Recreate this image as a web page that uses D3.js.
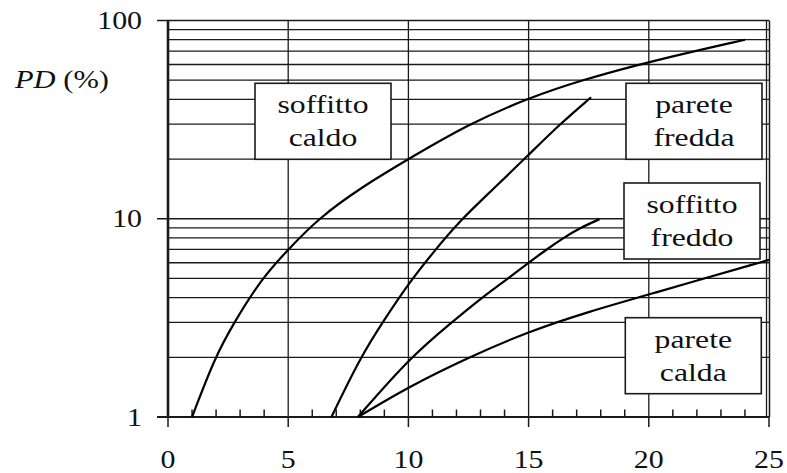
<!DOCTYPE html>
<html>
<head>
<meta charset="utf-8">
<script src="https://cdn.jsdelivr.net/npm/d3@7/dist/d3.min.js"></script>
<style>
	body{ margin:0; background:#fff; }
</style>
</head>
<body>
<svg id="chart" width="787" height="473"></svg>
<script>
// curves (x, PD %)
var soffittoCaldoX = [1, 1.95, 2.75, 3.9, 5.0, 6.24, 8, 10, 12.5, 15, 17.2, 20, 24]
	, soffittoCaldoY = [1, 2, 3, 5, 7, 10, 14.3, 20, 30, 40.7, 50, 62, 80]
	, pareteFreddaX = [6.8, 8, 9, 10, 11, 12.15, 13.5, 15, 16.3, 17.6]
	, pareteFreddaY = [1, 2, 3.1, 4.7, 6.7, 9.8, 14, 21, 30, 41]
	, soffittoFreddoX = [7.9, 10.07, 11.8, 13.05, 14.15, 15.0, 15.75, 16.45, 17.15, 17.95]
	, soffittoFreddoY = [1, 2, 3, 4, 5, 6, 7, 8, 9, 9.95]
	, pareteCaldaX = [7.9, 10, 12.5, 15, 17.5, 20, 25]
	, pareteCaldaY = [1, 1.42, 2, 2.7, 3.4, 4.15, 6.2]

	, xTicks = [0, 5, 10, 15, 20, 25]
	, yTicks = [1, 10, 100]
	, labelNames = [['soffitto', 'caldo'], ['parete', 'fredda'], ['soffitto', 'freddo'], ['parete', 'calda']]
	;

var svg = d3.select('#chart')
	, x = d3.scaleLinear().domain([0, 25]).range([168, 769])
	, y = d3.scaleLog().domain([1, 100]).range([417, 20.5])
	, sx = 1.22   // the original is stretched sideways
	, ink = '#1a1a1a'
	, serif = "'Liberation Serif', 'Times New Roman', Times, 'DejaVu Serif', 'Noto Serif', serif"
	;

function stretched(g, tx, ty, txt, anchor, size){
	return g.append('text')
		.attr('transform', 'translate(' + tx + ',' + ty + ') scale(' + sx + ',1)')
		.attr('text-anchor', anchor)
		.attr('font-family', serif)
		.attr('font-size', size)
		.attr('fill', '#111')
		.text(txt);
}

// grid
var grid = svg.append('g').attr('stroke', ink).attr('stroke-width', 1.3);
grid.selectAll('line.h').data(y.ticks()).enter().append('line')
	.attr('x1', x(0)).attr('x2', x(25))
	.attr('y1', function(d){ return y(d); }).attr('y2', function(d){ return y(d); });
grid.selectAll('line.v').data([5, 10, 15, 20]).enter().append('line')
	.attr('y1', y(1)).attr('y2', y(100))
	.attr('x1', function(d){ return x(d); }).attr('x2', function(d){ return x(d); });

// frame
svg.append('line').attr('x1', x(0)).attr('x2', x(0)).attr('y1', y(1)).attr('y2', y(100))
	.attr('stroke', ink).attr('stroke-width', 2.6);
svg.append('line').attr('x1', x(25) - 2.5).attr('x2', x(25) - 2.5).attr('y1', y(1)).attr('y2', y(100))
	.attr('stroke', ink).attr('stroke-width', 1.3);
svg.append('line').attr('x1', x(25) + 0.5).attr('x2', x(25) + 0.5).attr('y1', y(1)).attr('y2', y(100))
	.attr('stroke', ink).attr('stroke-width', 1.5);
svg.append('line').attr('x1', x(0) - 11).attr('x2', x(25)).attr('y1', y(1)).attr('y2', y(1))
	.attr('stroke', ink).attr('stroke-width', 1.8);

// ticks
var ticks = svg.append('g').attr('stroke', ink).attr('stroke-width', 1.5);
ticks.selectAll('line.xm').data(xTicks).enter().append('line')
	.attr('x1', function(d){ return x(d); }).attr('x2', function(d){ return x(d); })
	.attr('y1', y(1)).attr('y2', y(1) + 10);
ticks.selectAll('line.xn').data(d3.range(1, 25).filter(function(d){ return d % 5; })).enter().append('line')
	.attr('x1', function(d){ return x(d); }).attr('x2', function(d){ return x(d); })
	.attr('y1', y(1)).attr('y2', y(1) - 7.5);
ticks.selectAll('line.ym').data(yTicks).enter().append('line')
	.attr('x1', x(0) - 11).attr('x2', x(0))
	.attr('y1', function(d){ return y(d); }).attr('y2', function(d){ return y(d); });

// tick labels
var lab = svg.append('g');
xTicks.forEach(function(d){ stretched(lab, x(d), 468, d, 'middle', 24.5); });
yTicks.forEach(function(d){ stretched(lab, 142, y(d) + 8.5, d, 'end', 24.5); });

var pd = stretched(lab, 15, 88, '', 'start', 25);
pd.append('tspan').attr('font-style', 'italic').text('PD');
pd.append('tspan').text(' (%)');

// curves
var line = d3.line()
	.x(function(d){ return x(d[0]); })
	.y(function(d){ return y(d[1]); })
	.curve(d3.curveBasis);

[
	[soffittoCaldoX, soffittoCaldoY],
	[pareteFreddaX, pareteFreddaY],
	[soffittoFreddoX, soffittoFreddoY],
	[pareteCaldaX, pareteCaldaY]
].forEach(function(s){
	svg.append('path')
		.datum(d3.zip(s[0], s[1]))
		.attr('d', line)
		.attr('fill', 'none')
		.attr('stroke', '#000')
		.attr('stroke-width', 2.2);
});

// label boxes (centre in px, box 136 x 76)
var boxAt = [[323, 121.3], [694, 121.3], [692, 221], [693.3, 355.7]];
labelNames.forEach(function(names, i){
	var cx = boxAt[i][0], top = boxAt[i][1] - 38
		, g = svg.append('g');
	g.append('rect')
		.attr('x', cx - 68).attr('y', top).attr('width', 136).attr('height', 76)
		.attr('fill', '#fff').attr('stroke', ink).attr('stroke-width', 1.6);
	stretched(g, cx, top + 30, names[0], 'middle', 26);
	stretched(g, cx, top + 63, names[1], 'middle', 26);
});
</script>
</body>
</html>
